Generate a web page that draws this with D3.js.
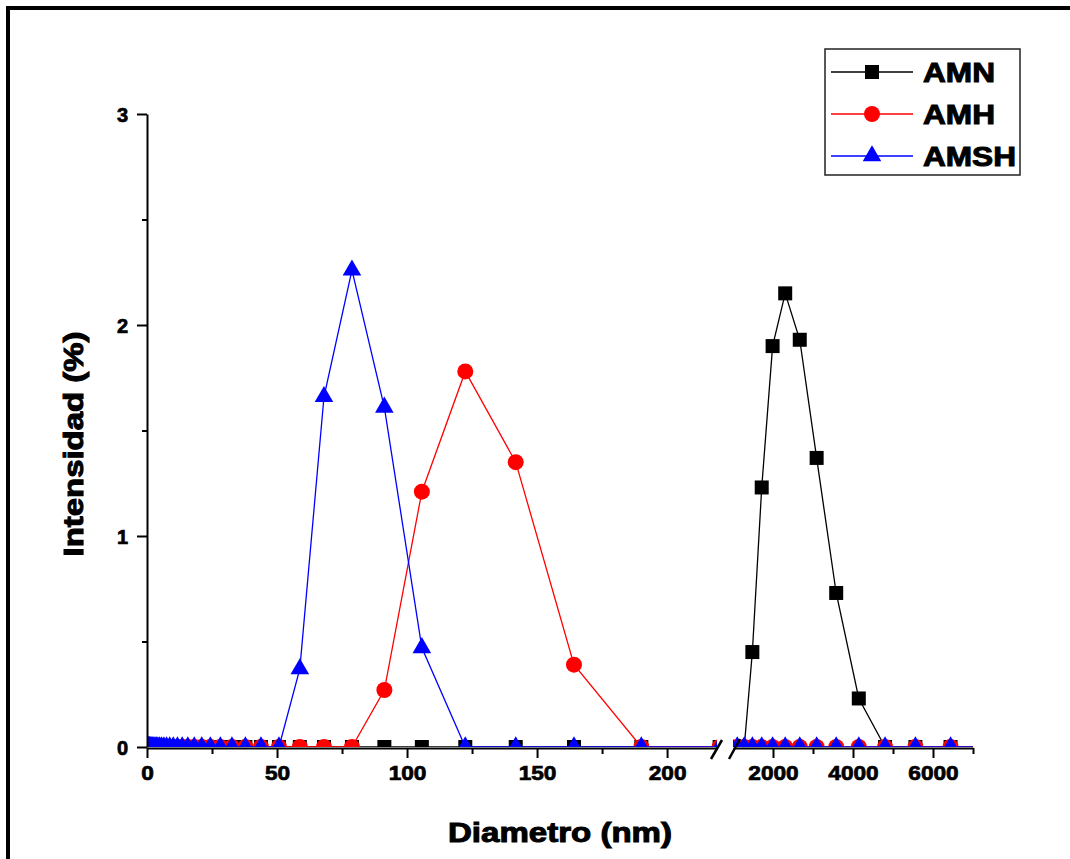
<!DOCTYPE html>
<html>
<head>
<meta charset="utf-8">
<script src="https://cdn.jsdelivr.net/npm/d3@7"></script>
<style>
  body { margin: 0; background: #fff; }
  svg text { font-family: "Liberation Sans", Arial, sans-serif; font-weight: bold; fill: #000; }
</style>
</head>
<body>
<svg id="chart" width="1070" height="859"></svg>
<script>
// Size-distribution bins (nm)
const diameters = [0.4, 0.4632, 0.5365, 0.6213, 0.7195, 0.8332, 0.9649, 1.117, 1.294, 1.499,
  1.736, 2.01, 2.328, 2.696, 3.122, 3.615, 4.187, 4.849, 5.615, 6.503,
  7.531, 8.721, 10.1, 11.7, 13.54, 15.69, 18.17, 21.04, 24.36, 28.21,
  32.67, 37.84, 43.82, 50.75, 58.77, 68.06, 78.82, 91.28, 105.7, 122.4,
  141.8, 164.2, 190.1, 220.2, 255, 295.3, 342, 396.1, 458.7, 531.2,
  615.1, 712.4, 825, 955.4, 1106, 1281, 1484, 1718, 1990, 2305,
  2669, 3091, 3580, 4145, 4801, 5560, 6439, 7456, 8635, 10000];

// Intensity (%) per bin
const amn = [0, 0, 0, 0, 0, 0, 0, 0, 0, 0,
  0, 0, 0, 0, 0, 0, 0, 0, 0, 0,
  0, 0, 0, 0, 0, 0, 0, 0, 0, 0,
  0, 0, 0, 0, 0, 0, 0, 0, 0, 0,
  0, 0, 0, 0, 0, 0, 0, 0, 0, 0,
  0, 0, 0, 0, 0, 0, 0.45, 1.23, 1.90, 2.15,
  1.93, 1.37, 0.73, 0.23, 0, 0, 0, 0, 0, 0];

const amh = [0, 0, 0, 0, 0, 0, 0, 0, 0, 0,
  0, 0, 0, 0, 0, 0, 0, 0, 0, 0,
  0, 0, 0, 0, 0, 0, 0, 0, 0, 0,
  0, 0, 0, 0, 0, 0, 0, 0.27, 1.21, 1.78,
  1.35, 0.39, 0, 0, 0, 0, 0, 0, 0, 0,
  0, 0, 0, 0, 0, 0, 0, 0, 0, 0,
  0, 0, 0, 0, 0, 0, 0, 0, 0, 0];

const amsh = [0, 0, 0, 0, 0, 0, 0, 0, 0, 0,
  0, 0, 0, 0, 0, 0, 0, 0, 0, 0,
  0, 0, 0, 0, 0, 0, 0, 0, 0, 0,
  0, 0, 0, 0, 0.37, 1.66, 2.26, 1.61, 0.47, 0,
  0, 0, 0, 0, 0, 0, 0, 0, 0, 0,
  0, 0, 0, 0, 0, 0, 0, 0, 0, 0,
  0, 0, 0, 0, 0, 0, 0, 0, 0, 0];

const seriesNames = ["AMN", "AMH", "AMSH"];
const seriesColors = ["#000000", "#ff0000", "#0000ff"];

const yTicks = [0, 1, 2, 3];
const yMinorTicks = [0.5, 1.5, 2.5];
const xLowTicks = [0, 50, 100, 150, 200];
const xLowMinorTicks = [25, 75, 125, 175];
const xHighTicks = [2000, 4000, 6000];
const xHighMinorTicks = [3000, 5000, 7000];

const svg = d3.select("#chart");

// Outer frame
svg.append("path")
  .attr("d", "M8,859 V8 H1070")
  .attr("fill", "none").attr("stroke", "#000").attr("stroke-width", 4);

const y = d3.scaleLinear().domain([0, 3]).range([747, 114]);
const xLow = d3.scaleLinear().domain([0, 219.2]).range([147, 717]);
const xHigh = d3.scaleLinear().domain([1000, 7000]).range([733, 973]);

const symbolGens = [
  d3.symbol().type(d3.symbolSquare).size(196),
  d3.symbol().type(d3.symbolCircle).size(201),
  d3.symbol().type(d3.symbolTriangle).size(150)
];

const series = [amn, amh, amsh].map((vals, i) => ({
  name: seriesNames[i],
  color: seriesColors[i],
  symbol: symbolGens[i],
  points: diameters.map((d, k) => ({ d, v: vals[k] }))
}));

const defs = svg.append("defs");
defs.append("clipPath").attr("id", "clipLow")
  .append("rect").attr("x", 148).attr("y", 60).attr("width", 717 - 148).attr("height", 747 - 60);
defs.append("clipPath").attr("id", "clipHigh")
  .append("rect").attr("x", 733).attr("y", 60).attr("width", 973 - 733).attr("height", 747 - 60);

function drawSegment(xs, clipId) {
  const g = svg.append("g").attr("clip-path", `url(#${clipId})`);
  series.forEach(s => {
    const line = d3.line().x(p => xs(p.d)).y(p => y(p.v));
    g.append("path").datum(s.points)
      .attr("d", line)
      .attr("fill", "none").attr("stroke", s.color).attr("stroke-width", 1.3);
    g.selectAll(null).data(s.points).enter().append("path")
      .attr("d", s.symbol())
      .attr("transform", p => `translate(${xs(p.d)},${y(p.v)})`)
      .attr("fill", s.color);
  });
}
drawSegment(xLow, "clipLow");
drawSegment(xHigh, "clipHigh");

// Axes
function styleAxis(g) {
  g.select(".domain").attr("stroke", "#000").attr("stroke-width", 2);
  g.selectAll(".tick line").attr("stroke", "#000").attr("stroke-width", 2);
  g.selectAll(".tick text")
    .style("font-family", '"Liberation Sans", Arial, sans-serif')
    .style("font-weight", "bold")
    .style("font-size", "20px")
    .attr("fill", "#000")
    .attr("stroke", "#000").attr("stroke-width", 0.7);
}

const yAxisG = svg.append("g").attr("transform", "translate(147,0)")
  .call(d3.axisLeft(y).tickValues(yTicks).tickFormat(d3.format("d")).tickSize(10).tickSizeOuter(0).tickPadding(9));
styleAxis(yAxisG);
yAxisG.selectAll(".tick text").attr("dy", "0.36em");
svg.append("g").attr("transform", "translate(147,0)")
  .call(d3.axisLeft(y).tickValues(yMinorTicks).tickFormat("").tickSize(5).tickSizeOuter(0))
  .call(g => { g.select(".domain").remove(); g.selectAll(".tick line").attr("stroke", "#000").attr("stroke-width", 2); });

function bottomAxis(xs, major, minor) {
  const g = svg.append("g").attr("transform", "translate(0,748)")
    .call(d3.axisBottom(xs).tickValues(major).tickFormat(d3.format("d")).tickSize(10).tickSizeOuter(0).tickPadding(8));
  styleAxis(g);
  g.selectAll(".tick text").each(function (d) {
    const n = String(d).length;
    d3.select(this).attr("textLength", n * 12.6).attr("lengthAdjust", "spacingAndGlyphs");
  });
  svg.append("g").attr("transform", "translate(0,748)")
    .call(d3.axisBottom(xs).tickValues(minor).tickFormat("").tickSize(6).tickSizeOuter(0))
    .call(m => { m.select(".domain").remove(); m.selectAll(".tick line").attr("stroke", "#000").attr("stroke-width", 2); });
}
bottomAxis(xLow, xLowTicks, xLowMinorTicks);
bottomAxis(xHigh, xHighTicks, xHighMinorTicks);

// Axis break marks
const breakMarks = [[711, 759, 722, 740], [729, 759, 740, 739]];
svg.selectAll(null).data(breakMarks).enter().append("line")
  .attr("x1", d => d[0]).attr("y1", d => d[1]).attr("x2", d => d[2]).attr("y2", d => d[3])
  .attr("stroke", "#000").attr("stroke-width", 2.5);

// Axis titles
svg.append("text")
  .attr("x", 560).attr("y", 842)
  .attr("text-anchor", "middle")
  .attr("textLength", 224).attr("lengthAdjust", "spacingAndGlyphs")
  .attr("stroke", "#000").attr("stroke-width", 1)
  .style("font-size", "27px")
  .text("Diametro (nm)");

svg.append("text")
  .attr("transform", "translate(83,444) rotate(-90)")
  .attr("text-anchor", "middle")
  .attr("textLength", 225).attr("lengthAdjust", "spacingAndGlyphs")
  .attr("stroke", "#000").attr("stroke-width", 1)
  .style("font-size", "27px")
  .text("Intensidad (%)");

// Legend
const legend = svg.append("g");
legend.append("rect")
  .attr("x", 825).attr("y", 49).attr("width", 195).attr("height", 126)
  .attr("fill", "#fff").attr("stroke", "#222").attr("stroke-width", 1.5);
const legendRows = [72, 114, 156];
series.forEach((s, i) => {
  const ly = legendRows[i];
  legend.append("line")
    .attr("x1", 831).attr("x2", 913).attr("y1", ly).attr("y2", ly)
    .attr("stroke", s.color).attr("stroke-width", 1.3);
  legend.append("path")
    .attr("d", s.symbol())
    .attr("transform", `translate(872,${ly})`)
    .attr("fill", s.color);
  legend.append("text")
    .attr("x", 923).attr("y", ly + 10)
    .attr("textLength", s.name.length === 4 ? 93 : 72).attr("lengthAdjust", "spacingAndGlyphs")
    .attr("stroke", "#000").attr("stroke-width", 1)
    .style("font-size", "27px")
    .text(s.name);
});
</script>
</body>
</html>
